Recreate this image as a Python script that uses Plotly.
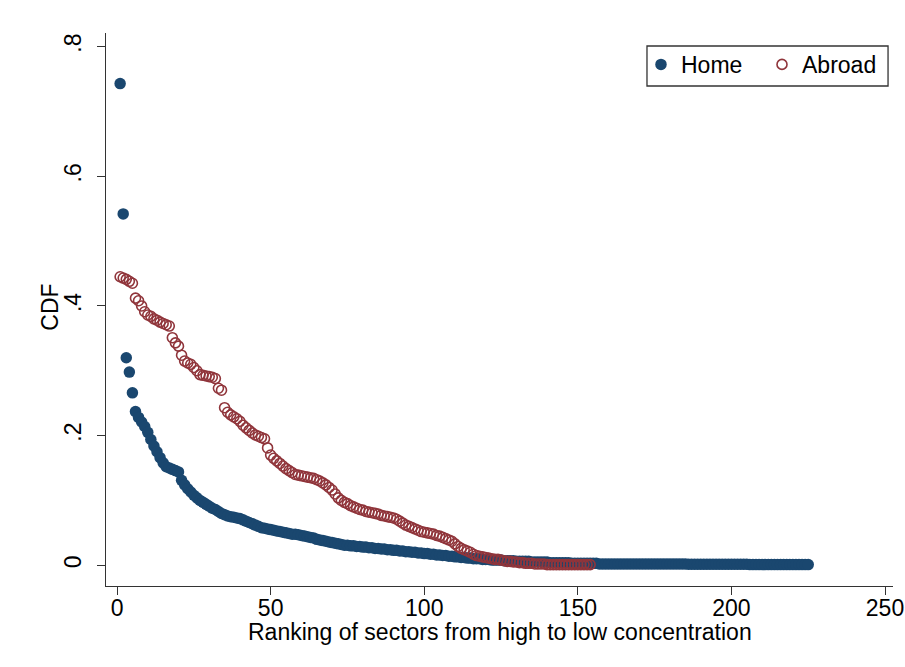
import plotly.graph_objects as go

# Concentration share by sector rank, home vs abroad
home_cdf = [
    0.743, 0.542, 0.320, 0.298, 0.266, 0.237, 0.228, 0.221, 0.214, 0.205,
    0.194, 0.184, 0.175, 0.166, 0.158, 0.152, 0.150, 0.148, 0.146, 0.144,
    0.131, 0.124, 0.118, 0.113, 0.108, 0.104, 0.100, 0.097, 0.094, 0.091,
    0.088, 0.086, 0.083, 0.080, 0.078, 0.076, 0.075, 0.074, 0.073, 0.072,
    0.070, 0.068, 0.066, 0.064, 0.062, 0.060, 0.058, 0.057, 0.056, 0.055,
    0.054, 0.053, 0.052, 0.051, 0.050, 0.049, 0.048, 0.048, 0.047, 0.046,
    0.045, 0.044, 0.043, 0.042, 0.040, 0.039, 0.038, 0.037, 0.036, 0.035,
    0.034, 0.033, 0.032, 0.031, 0.031, 0.030, 0.030, 0.029, 0.029, 0.028,
    0.028, 0.027, 0.027, 0.026, 0.026, 0.025, 0.025, 0.024, 0.024, 0.023,
    0.023, 0.022, 0.022, 0.021, 0.021, 0.020, 0.020, 0.019, 0.019, 0.018,
    0.018, 0.017, 0.017, 0.016, 0.016, 0.015, 0.015, 0.014, 0.014, 0.013,
    0.013, 0.012, 0.012, 0.011, 0.011, 0.010, 0.010, 0.010, 0.009, 0.009,
    0.009, 0.008, 0.008, 0.008, 0.008, 0.007, 0.007, 0.007, 0.007, 0.006,
    0.006, 0.006, 0.006, 0.006, 0.005, 0.005, 0.005, 0.005, 0.005, 0.005,
    0.004, 0.004, 0.004, 0.004, 0.004, 0.004, 0.004, 0.003, 0.003, 0.003,
    0.003, 0.003, 0.003, 0.003, 0.003, 0.003, 0.002, 0.002, 0.002, 0.002,
    0.002, 0.002, 0.002, 0.002, 0.002, 0.002, 0.002, 0.002, 0.002, 0.002,
    0.002, 0.002, 0.002, 0.002, 0.002, 0.002, 0.002, 0.002, 0.002, 0.002,
    0.002, 0.002, 0.002, 0.002, 0.002, 0.0015, 0.0015, 0.0015, 0.0015, 0.0015,
    0.0015, 0.0015, 0.0015, 0.0015, 0.0015, 0.0015, 0.0015, 0.0015, 0.0015, 0.0015,
    0.0015, 0.0015, 0.0015, 0.0015, 0.0015, 0.001, 0.001, 0.001, 0.001, 0.001,
    0.001, 0.001, 0.001, 0.001, 0.001, 0.001, 0.001, 0.001, 0.001, 0.001,
    0.001, 0.001, 0.001, 0.001, 0.001,
]

abroad_cdf = [
    0.445, 0.443, 0.441, 0.438, 0.435, 0.412, 0.408, 0.400, 0.391, 0.386,
    0.384, 0.380, 0.378, 0.375, 0.373, 0.371, 0.369, 0.351, 0.343, 0.338,
    0.324, 0.315, 0.312, 0.310, 0.305, 0.300, 0.294, 0.293, 0.292, 0.291,
    0.290, 0.288, 0.273, 0.270, 0.243, 0.236, 0.232, 0.229, 0.226, 0.222,
    0.216, 0.212, 0.208, 0.204, 0.201, 0.199, 0.197, 0.195, 0.181, 0.170,
    0.165, 0.161, 0.157, 0.153, 0.149, 0.146, 0.143, 0.140, 0.139, 0.138,
    0.137, 0.136, 0.135, 0.134, 0.132, 0.130, 0.127, 0.124, 0.120, 0.116,
    0.110, 0.104, 0.100, 0.097, 0.095, 0.092, 0.090, 0.088, 0.086, 0.085,
    0.083, 0.082, 0.081, 0.080, 0.079, 0.077, 0.076, 0.075, 0.074, 0.073,
    0.071, 0.068, 0.065, 0.062, 0.060, 0.058, 0.056, 0.054, 0.052, 0.051,
    0.050, 0.049, 0.048, 0.046, 0.045, 0.043, 0.041, 0.039, 0.037, 0.033,
    0.029, 0.026, 0.024, 0.022, 0.020, 0.017, 0.015, 0.014, 0.013, 0.012,
    0.011, 0.010, 0.009, 0.009, 0.008, 0.007, 0.006, 0.006, 0.005, 0.005,
    0.004, 0.004, 0.003, 0.003, 0.003, 0.002, 0.002, 0.002, 0.002, 0.001,
    0.001, 0.001, 0.001, 0.001, 0.001, 0.001, 0.001, 0.001, 0.001, 0.001,
    0.001, 0.001, 0.001, 0.001,
]

home_rank = list(range(1, len(home_cdf) + 1))
abroad_rank = list(range(1, len(abroad_cdf) + 1))

x_ticks = [0, 50, 100, 150, 200, 250]
y_ticks = [0, 0.2, 0.4, 0.6, 0.8]
y_tick_text = ["0", ".2", ".4", ".6", ".8"]

NAVY = "#1a476f"
MAROON = "#90353b"
AXIS = "#333333"
FONT = "Liberation Sans, Arial, Helvetica, sans-serif"
FS = 23

fig = go.Figure()
fig.add_trace(go.Scatter(
    x=home_rank, y=home_cdf, mode="markers", name="Home",
    marker=dict(symbol="circle", size=11.5, color=NAVY, line=dict(width=0)),
))
fig.add_trace(go.Scatter(
    x=abroad_rank, y=abroad_cdf, mode="markers", name="Abroad",
    marker=dict(symbol="circle-open", size=10, color=MAROON,
                line=dict(width=1.6, color=MAROON)),
))

# legend frame
fig.add_shape(
    type="rect", xref="paper", yref="paper",
    x0=0.6874, x1=0.9937, y0=0.9042, y1=0.9765,
    line=dict(color=AXIS, width=1.3), fillcolor="rgba(0,0,0,0)",
)

# axis titles
fig.add_annotation(
    text="CDF", xref="paper", yref="paper", x=-0.0712, y=0.505,
    xanchor="center", yanchor="middle", textangle=-90, showarrow=False,
    font=dict(family=FONT, size=FS, color="black"),
)
fig.add_annotation(
    text="Ranking of sectors from high to low concentration",
    xref="paper", yref="paper", x=0.5, y=-0.0832,
    xanchor="center", yanchor="middle", showarrow=False,
    font=dict(family=FONT, size=FS, color="black"),
)

fig.update_layout(
    width=905, height=667,
    margin=dict(l=106, r=12, t=33, b=81, autoexpand=False),
    paper_bgcolor="white", plot_bgcolor="white",
    font=dict(family=FONT, size=FS, color="black"),
    showlegend=True,
    legend=dict(
        orientation="h", x=0.6798, y=0.982, xanchor="left", yanchor="top",
        borderwidth=0, bgcolor="rgba(0,0,0,0)", entrywidth=76,
        font=dict(family=FONT, size=FS, color="black"),
    ),
    xaxis=dict(
        range=[-3.6, 252.6], tickmode="array", tickvals=x_ticks,
        ticks="outside", ticklen=8, tickwidth=1, tickcolor=AXIS,
        ticklabelstandoff=-7, automargin=False,
        showline=True, linecolor=AXIS, linewidth=1.3,
        showgrid=False, zeroline=False,
        tickfont=dict(family=FONT, size=FS),
    ),
    yaxis=dict(
        range=[-0.032, 0.821], tickmode="array", tickvals=y_ticks,
        ticktext=y_tick_text, tickangle=-90,
        ticks="outside", ticklen=8, tickwidth=1, tickcolor=AXIS,
        ticklabelstandoff=7, automargin=False,
        showline=True, linecolor=AXIS, linewidth=1.3,
        showgrid=False, zeroline=False,
        tickfont=dict(family=FONT, size=FS),
    ),
)

fig.write_html("out.html")
